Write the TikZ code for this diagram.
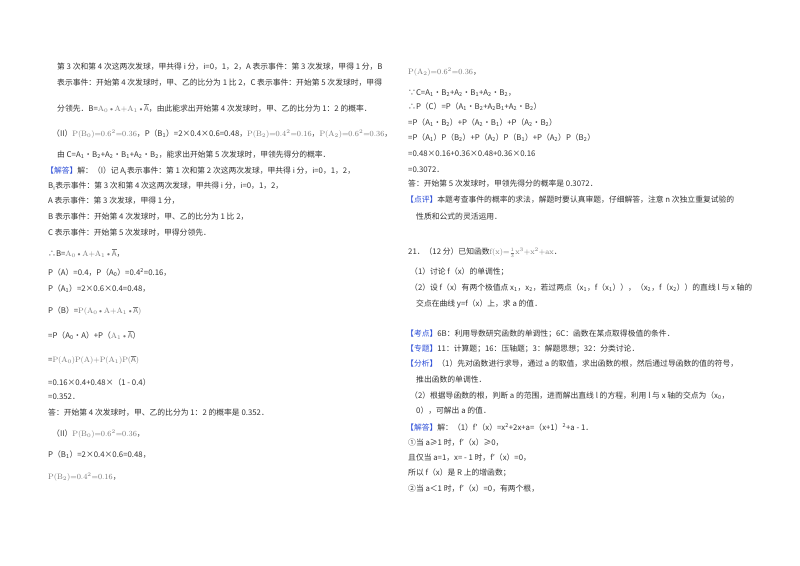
\documentclass[tikz,border=0pt]{standalone}
\usepackage{fontspec}
\setmainfont{Noto Sans CJK SC}
\newfontfamily\mathlike{Latin Modern Roman}
\definecolor{tx}{HTML}{333333}
\definecolor{bl}{HTML}{2E4FD8}
\definecolor{gy}{HTML}{777777}
\newcommand{\xsb}[1]{\textsubscript{#1}}
\newcommand{\xsp}[1]{\textsuperscript{#1}}
\newcommand{\hd}[1]{\textcolor{bl}{【#1】}}
\newcommand{\ab}{$\overline{\mathrm{A}}$}
\newcommand{\fm}[1]{{\color{gy}\mathlike #1}}
\begin{document}
\begin{tikzpicture}[x=1pt,y=-1pt,
  ln/.style={anchor=west,inner sep=0pt,font=\fontsize{7.8}{9}\selectfont,text=tx}]
\useasboundingbox (0,0) rectangle (800,565);
\fill[white] (0,0) rectangle (800,565);
% left column
\node[ln] (l1) at (57,67) {第 3 次和第 4 次这两次发球，甲共得 i 分，i=0，1，2，A 表示事件：第 3 次发球，甲得 1 分，B};
\node[ln] (l2) at (57,83) {表示事件：开始第 4 次发球时，甲、乙的比分为 1 比 2，C 表示事件：开始第 5 次发球时，甲得};
\node[ln] (l3) at (57,108) {分领先．B=\fm{A\xsb{0}•A+A\xsb{1}•\ab}，由此能求出开始第 4 次发球时，甲、乙的比分为 1：2 的概率．};
\node[ln] (l4) at (52,134) {（II）\fm{P(B\xsb{0})=0.6\xsp{2}=0.36}，P（B\xsb{1}）=2×0.4×0.6=0.48，\fm{P(B\xsb{2})=0.4\xsp{2}=0.16}，\fm{P(A\xsb{2})=0.6\xsp{2}=0.36}，};
\node[ln] (l5) at (57,155) {由 C=A\xsb{1}•B\xsb{2}+A\xsb{2}•B\xsb{1}+A\xsb{2}•B\xsb{2}，能求出开始第 5 次发球时，甲领先得分的概率．};
\node[ln] (l6) at (46,171) {\hd{解答}解：（I）记 A\xsb{i}表示事件：第 1 次和第 2 次这两次发球，甲共得 i 分，i=0，1，2，};
\node[ln] (l7) at (48,186) {B\xsb{i}表示事件：第 3 次和第 4 次这两次发球，甲共得 i 分，i=0，1，2，};
\node[ln] (l8) at (48,201) {A 表示事件：第 3 次发球，甲得 1 分，};
\node[ln] (l9) at (48,217) {B 表示事件：开始第 4 次发球时，甲、乙的比分为 1 比 2，};
\node[ln] (l10) at (48,233) {C 表示事件：开始第 5 次发球时，甲得分领先．};
\node[ln] (l11) at (48,253) {∴B=\fm{A\xsb{0}•A+A\xsb{1}•\ab}，};
\node[ln] (l12) at (48,273) {P（A）=0.4，P（A\xsb{0}）=0.4\xsp{2}=0.16，};
\node[ln] (l13) at (48,289) {P（A\xsb{1}）=2×0.6×0.4=0.48，};
\node[ln] (l14) at (48,311) {P（B）=\fm{P(A\xsb{0}•A+A\xsb{1}•\ab)}};
\node[ln] (l15) at (48,335) {=P（A\xsb{0}•A）+P（\fm{A\xsb{1}•\ab}）};
\node[ln] (l16) at (48,360) {=\fm{P(A\xsb{0})P(A)+P(A\xsb{1})P(\ab)}};
\node[ln] (l17) at (48,383) {=0.16×0.4+0.48×（1 - 0.4）};
\node[ln] (l18) at (48,397) {=0.352．};
\node[ln] (l19) at (48,413) {答：开始第 4 次发球时，甲、乙的比分为 1：2 的概率是 0.352．};
\node[ln] (l20) at (52,434) {（II）\fm{P(B\xsb{0})=0.6\xsp{2}=0.36}，};
\node[ln] (l21) at (48,455) {P（B\xsb{1}）=2×0.4×0.6=0.48，};
\node[ln] (l22) at (48,477) {\fm{P(B\xsb{2})=0.4\xsp{2}=0.16}，};
% right column
\node[ln] (r1) at (408,72) {\fm{P(A\xsb{2})=0.6\xsp{2}=0.36}，};
\node[ln] (r2) at (408,93) {∵C=A\xsb{1}•B\xsb{2}+A\xsb{2}•B\xsb{1}+A\xsb{2}•B\xsb{2}，};
\node[ln] (r3) at (408,107) {∴P（C）=P（A\xsb{1}•B\xsb{2}+A\xsb{2}B\xsb{1}+A\xsb{2}•B\xsb{2}）};
\node[ln] (r4) at (408,123) {=P（A\xsb{1}•B\xsb{2}）+P（A\xsb{2}•B\xsb{1}）+P（A\xsb{2}•B\xsb{2}）};
\node[ln] (r5) at (408,138) {=P（A\xsb{1}）P（B\xsb{2}）+P（A\xsb{2}）P（B\xsb{1}）+P（A\xsb{2}）P（B\xsb{2}）};
\node[ln] (r6) at (408,154) {=0.48×0.16+0.36×0.48+0.36×0.16};
\node[ln] (r7) at (408,170) {=0.3072．};
\node[ln] (r8) at (408,184) {答：开始第 5 次发球时，甲领先得分的概率是 0.3072．};
\node[ln] (r9) at (406,200) {\hd{点评}本题考查事件的概率的求法，解题时要认真审题，仔细解答，注意 n 次独立重复试验的};
\node[ln] (r10) at (416,217) {性质和公式的灵活运用．};
\node[ln] (r11) at (408,253) {21．（12 分）已知函数\fm{f(x)=$\frac{1}{3}$x\xsp{3}+x\xsp{2}+ax}．};
\node[ln] (r12) at (410,272) {（1）讨论 f（x）的单调性；};
\node[ln] (r13) at (410,288) {（2）设 f（x）有两个极值点 x\xsb{1}，x\xsb{2}，若过两点（x\xsb{1}，f（x\xsb{1}）），（x\xsb{2}，f（x\xsb{2}））的直线 l 与 x 轴的};
\node[ln] (r14) at (416,304) {交点在曲线 y=f（x）上，求 a 的值．};
\node[ln] (r15) at (406,334) {\hd{考点}6B：利用导数研究函数的单调性；6C：函数在某点取得极值的条件．};
\node[ln] (r16) at (406,349) {\hd{专题}11：计算题；16：压轴题；3：解题思想；32：分类讨论．};
\node[ln] (r17) at (406,364) {\hd{分析}（1）先对函数进行求导，通过 a 的取值，求出函数的根，然后通过导函数的值的符号，};
\node[ln] (r18) at (416,380) {推出函数的单调性．};
\node[ln] (r19) at (410,396) {（2）根据导函数的根，判断 a 的范围，进而解出直线 l 的方程，利用 l 与 x 轴的交点为（x\xsb{0}，};
\node[ln] (r20) at (416,411) {0），可解出 a 的值．};
\node[ln] (r21) at (406,427) {\hd{解答}解：（1）f′（x）=x\xsp{2}+2x+a=（x+1）\xsp{2}+a - 1．};
\node[ln] (r22) at (408,443) {①当 a≥1 时，f′（x）≥0，};
\node[ln] (r23) at (408,458) {且仅当 a=1，x= - 1 时，f′（x）=0，};
\node[ln] (r24) at (408,473) {所以 f（x）是 R 上的增函数；};
\node[ln] (r25) at (408,489) {②当 a＜1 时，f′（x）=0，有两个根，};
\end{tikzpicture}
\end{document}
